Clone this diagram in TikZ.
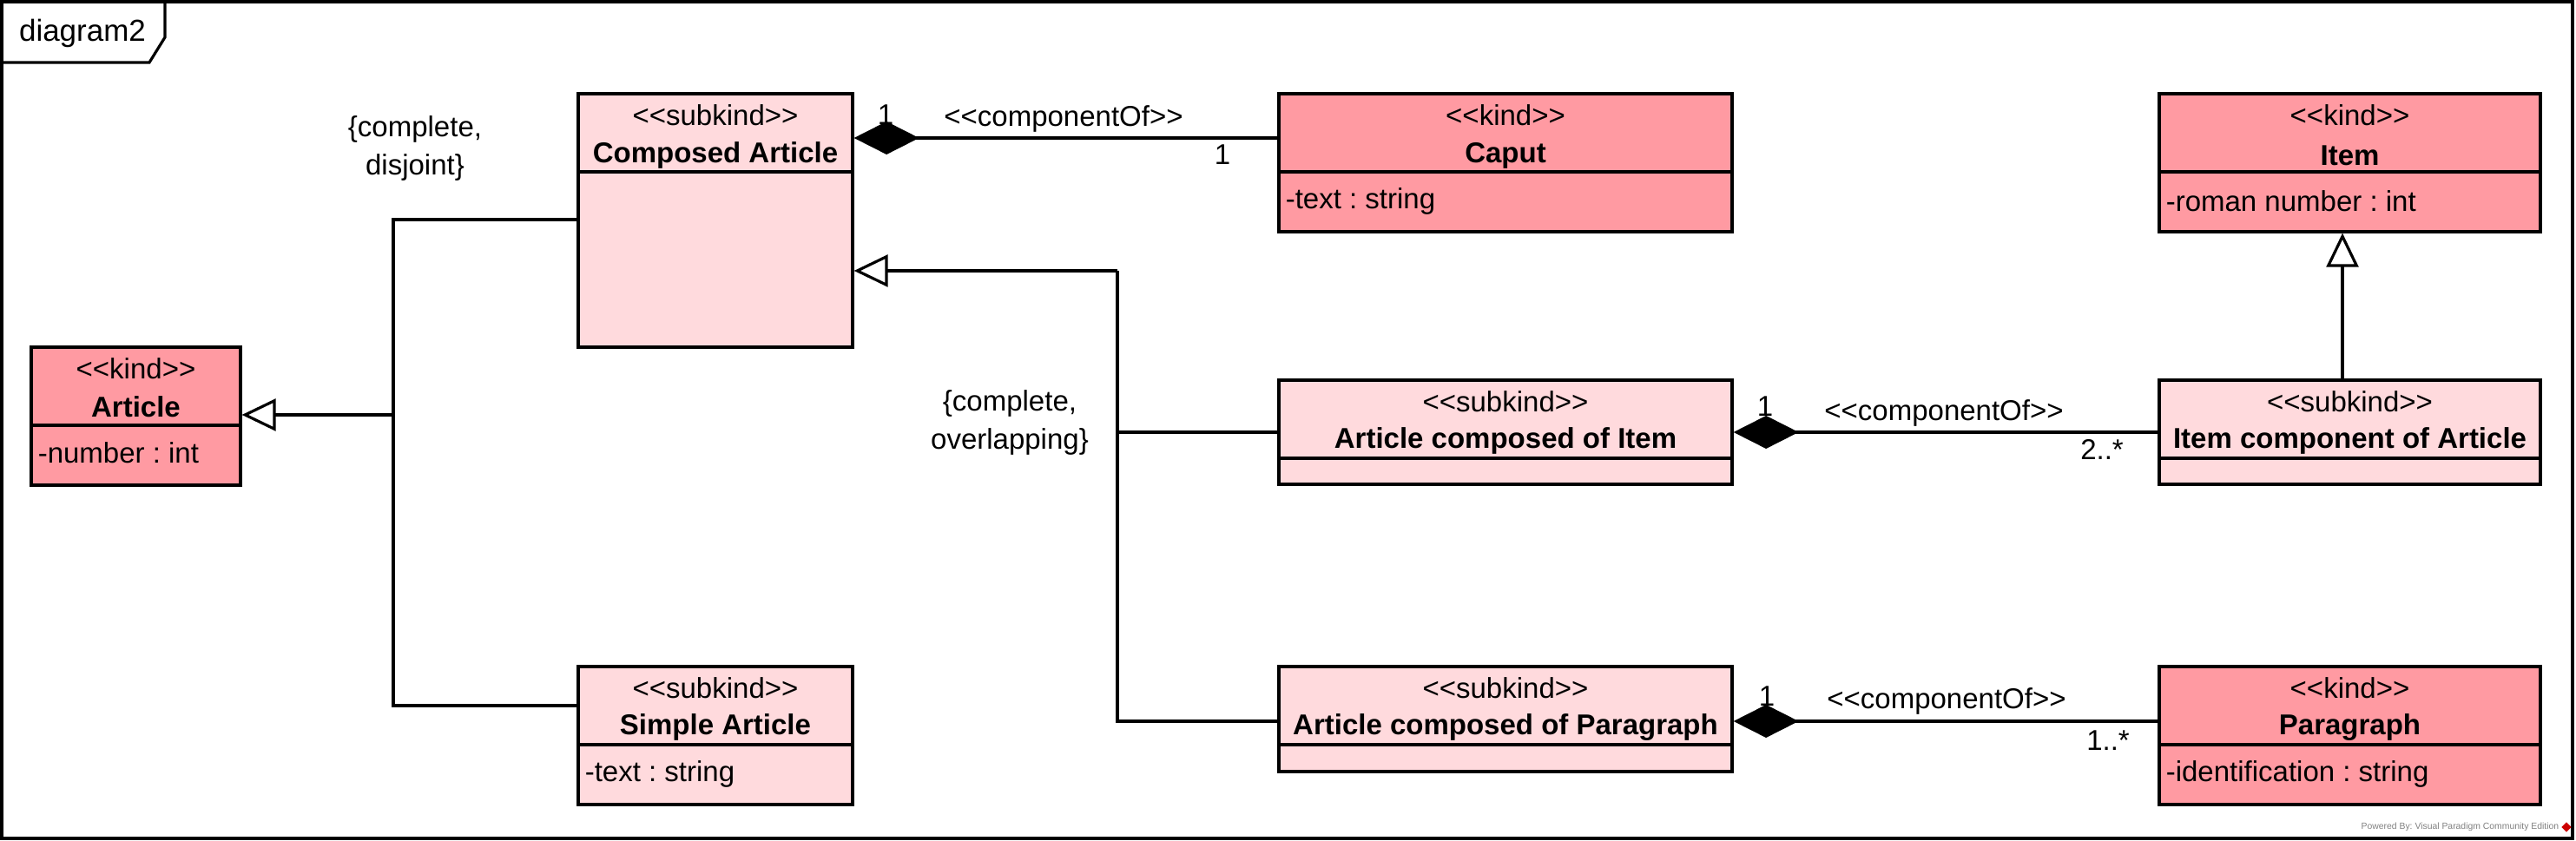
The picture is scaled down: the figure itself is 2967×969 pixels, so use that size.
\documentclass[tikz,border=0pt]{standalone}
\usepackage{fontspec}
\setmainfont{Liberation Sans}
\usetikzlibrary{arrows.meta,fit,shapes.geometric}
\definecolor{kindfill}{RGB}{255,154,162}
\definecolor{subkindfill}{RGB}{255,218,221}
\frenchspacing

\begin{document}
\begin{tikzpicture}[x=0.25pt,y=-0.25pt,
  kind/.style={draw,fill=kindfill,line width=0.8pt,inner sep=0pt},
  subkind/.style={draw,fill=subkindfill,line width=0.8pt,inner sep=0pt},
  txt/.style={inner sep=0pt,font=\fontsize{8.25}{11}\selectfont},
  cname/.style={inner sep=0pt,font=\fontsize{8.25}{11}\selectfont\bfseries},
  attr/.style={txt,anchor=west},
  link/.style={line width=0.8pt},
  gen/.style={line width=0.8pt,-{Triangle[open,fill=white,length=9.75pt,width=9.2pt]}},
  comp/.style={line width=0.8pt,-{Diamond[length=18.75pt,width=9.5pt]}}]

\useasboundingbox (0,0) rectangle (2967,969);
\draw[link] (2,2) rectangle (2963,966);
\draw[link] (2,72) -- (172,72) -- (190,43) -- (190,2);
\node[inner sep=0pt,font=\fontsize{8.75}{11}\selectfont] (frame-title) at (95,38) {diagram2};

\node[kind,fit={(36,400) (277,559)}] (article) {};
\draw[link] (article.west |- 0,490) -- (article.east |- 0,490);
\node[txt] (article-st) at (156.5,425) {{<}{<}kind{>}{>}};
\node[cname] (article-nm) at (156.5,469) {Article};
\node[attr] (article-at) at (43,522) {-number : int};

\node[subkind,fit={(666,108) (982,400)}] (composed) {};
\draw[link] (composed.west |- 0,198) -- (composed.east |- 0,198);
\node[txt] (composed-st) at (824,133) {{<}{<}subkind{>}{>}};
\node[cname] (composed-nm) at (824,179) {Composed Article};

\node[kind,fit={(1473,108) (1995,267)}] (caput) {};
\draw[link] (caput.west |- 0,198) -- (caput.east |- 0,198);
\node[txt] (caput-st) at (1734,133) {{<}{<}kind{>}{>}};
\node[cname] (caput-nm) at (1734,179) {Caput};
\node[attr] (caput-at) at (1480,232) {-text : string};

\node[kind,fit={(2487,108) (2926,267)}] (item) {};
\draw[link] (item.west |- 0,198) -- (item.east |- 0,198);
\node[txt] (item-st) at (2706.5,133) {{<}{<}kind{>}{>}};
\node[cname] (item-nm) at (2706.5,179) {Item};
\node[attr] (item-at) at (2494,232) {-roman number : int};

\node[subkind,fit={(1473,438) (1995,558)}] (aci) {};
\draw[link] (aci.west |- 0,528) -- (aci.east |- 0,528);
\node[txt] (aci-st) at (1734,463) {{<}{<}subkind{>}{>}};
\node[cname] (aci-nm) at (1734,508) {Article composed of Item};

\node[subkind,fit={(2487,438) (2926,558)}] (icoa) {};
\draw[link] (icoa.west |- 0,528) -- (icoa.east |- 0,528);
\node[txt] (icoa-st) at (2706.5,463) {{<}{<}subkind{>}{>}};
\node[cname] (icoa-nm) at (2706.5,508) {Item component of Article};

\node[subkind,fit={(666,768) (982,927)}] (simple) {};
\draw[link] (simple.west |- 0,858) -- (simple.east |- 0,858);
\node[txt] (simple-st) at (824,793) {{<}{<}subkind{>}{>}};
\node[cname] (simple-nm) at (824,838) {Simple Article};
\node[attr] (simple-at) at (673,892) {-text : string};

\node[subkind,fit={(1473,768) (1995,889)}] (acp) {};
\draw[link] (acp.west |- 0,858) -- (acp.east |- 0,858);
\node[txt] (acp-st) at (1734,793) {{<}{<}subkind{>}{>}};
\node[cname] (acp-nm) at (1734,838) {Article composed of Paragraph};

\node[kind,fit={(2487,768) (2926,927)}] (paragraph) {};
\draw[link] (paragraph.west |- 0,858) -- (paragraph.east |- 0,858);
\node[txt] (paragraph-st) at (2706.5,793) {{<}{<}kind{>}{>}};
\node[cname] (paragraph-nm) at (2706.5,838) {Paragraph};
\node[attr] (paragraph-at) at (2494,892) {-identification : string};

\coordinate (gs1) at (453,478);
\coordinate (gs2) at (1287,312);
\draw[gen] (gs1) -- (article.east |- gs1);
\draw[link] (composed.west |- 0,253) -| (gs1) |- (simple.west |- 0,813);
\draw[gen] (gs2) -- (composed.east |- gs2);
\draw[link] (gs2) |- (aci.west |- 0,498);
\draw[link] (gs2) |- (acp.west |- 0,831);
\draw[gen] (icoa.north -| 2698,0) -- (item.south -| 2698,0);

\draw[comp] (caput.west |- 0,159) -- (composed.east |- 0,159);
\draw[comp] (icoa.west |- 0,498) -- (aci.east |- 0,498);
\draw[comp] (paragraph.west |- 0,831) -- (acp.east |- 0,831);

\node[txt,align=center] (disjoint) at (478,171) {\{complete,\\disjoint\}};
\node[txt,align=center] (overlapping) at (1163,487) {\{complete,\\overlapping\}};

\node[txt] (caput-m1) at (1020,132) {1};
\node[txt] (caput-st2) at (1225,137) {{<}{<}componentOf{>}{>}};
\node[txt] (caput-m2) at (1408,178) {1};
\node[txt] (item-m1) at (2033,468) {1};
\node[txt] (item-st2) at (2239,476) {{<}{<}componentOf{>}{>}};
\node[txt] (item-m2) at (2421,518) {2..*};
\node[txt] (par-m1) at (2035,802) {1};
\node[txt] (par-st2) at (2242,808) {{<}{<}componentOf{>}{>}};
\node[txt] (par-m2) at (2428,853) {1..*};

\node[inner sep=0pt,anchor=east,text=gray,font=\fontsize{2.6}{3}\selectfont] (powered) at (2948,953) {Powered By: Visual Paradigm Community Edition};
\node[diamond,fill=red!80!black,inner sep=0pt,minimum size=3pt] (vp-logo) at (2956,953) {};

\end{tikzpicture}
\end{document}
